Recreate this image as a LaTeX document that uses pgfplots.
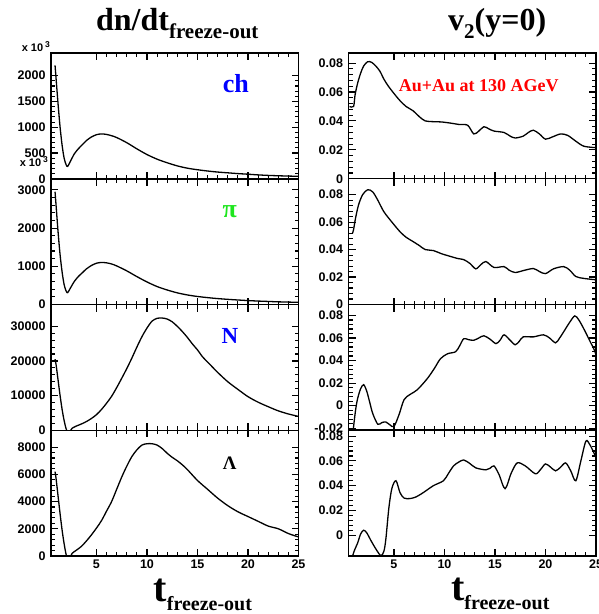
\documentclass[border=0pt]{standalone}
\usepackage{pgfplots}
\pgfplotsset{compat=1.18}
\usepackage{fontspec}
\setmainfont{Liberation Serif}
\setsansfont{Liberation Sans}
\usepgfplotslibrary{groupplots}
\definecolor{pigreen}{RGB}{30,230,30}
\begin{document}
\begin{tikzpicture}
\begin{groupplot}[
  group style={group size=2 by 4, vertical sep=0pt, horizontal sep=50pt, xticklabels at=edge bottom},
  width=247.5pt, height=125.75pt, scale only axis,
  xmin=0.5, xmax=25, xtick={5,10,15,20,25},
  minor x tick num=4, minor y tick num=4,
  tick align=inside,
  major tick length=7pt, minor tick length=4pt,
  axis line style={line width=1.5pt},
  every tick/.style={black, line width=1.1pt},
  tick label style={font=\sffamily\bfseries\fontsize{12.5}{12.5}\selectfont},
  /pgf/number format/assume math mode=true,
  /pgf/number format/1000 sep={},
  scaled y ticks=false,
  yticklabel style={xshift=-2pt},
  cycle list={{black,no marks}},
  every axis plot/.append style={line width=1.3pt, smooth},
]
% ---- row 1 left: ch
\nextgroupplot[ymin=0, ymax=2440, ytick={0,500,1000,1500,2000}]
\addplot coordinates {(0.9,2200)(1.0,1950)(1.2,1450)(1.4,1000)(1.6,650)(1.8,400)(2.0,270)(2.15,240)(2.4,330)(2.8,480)(3.2,580)(3.6,660)(4.0,740)(4.5,810)(5.0,855)(5.5,870)(6.0,860)(6.5,835)(7.0,800)(8.0,700)(9.0,580)(10.0,470)(11.0,380)(12.0,310)(13.0,250)(14.0,205)(15.0,175)(16,150)(17,130)(18,115)(19,100)(20,88)(21,75)(22,65)(23,58)(24,52)(25,48)};
\node[font=\bfseries\fontsize{26}{26}\selectfont, text=blue] at (axis cs:18.8,1840) {ch};
% ---- row 1 right
\nextgroupplot[ymin=0, ymax=0.087, ytick={0,0.02,0.04,0.06,0.08}, yticklabels={0,0.02,0.04,0.06,0.08}]
\addplot coordinates {(0.6,0.050)(1.0,0.050)(1.15,0.058)(1.4,0.066)(1.7,0.073)(2.0,0.078)(2.4,0.081)(2.8,0.0805)(3.2,0.078)(3.6,0.0745)(4.0,0.069)(4.4,0.0645)(5.0,0.059)(5.6,0.054)(6.2,0.050)(6.9,0.047)(7.5,0.043)(8.1,0.040)(8.9,0.0395)(9.7,0.0393)(10.6,0.0385)(11.5,0.0375)(12.3,0.037)(12.9,0.031)(13.4,0.033)(13.9,0.036)(14.4,0.0345)(14.9,0.033)(15.9,0.032)(16.5,0.0295)(17.0,0.0282)(17.8,0.0295)(18.3,0.032)(18.8,0.0336)(19.4,0.031)(20.0,0.0274)(20.7,0.029)(21.5,0.031)(22.2,0.030)(23.0,0.026)(23.8,0.0225)(25.0,0.0215)};
\node[font=\bfseries\fontsize{18}{18}\selectfont, text=red] at (axis cs:13.4,0.0646) {Au+Au at 130 AGeV};
% ---- row 2 left: pi
\nextgroupplot[ymin=0, ymax=3290, ytick={0,1000,2000,3000}]
\addplot coordinates {(0.9,2950)(1.0,2600)(1.2,1900)(1.4,1300)(1.6,850)(1.8,520)(2.0,350)(2.15,310)(2.4,420)(2.8,600)(3.2,730)(3.6,830)(4.0,930)(4.5,1020)(5.0,1080)(5.5,1100)(6.0,1090)(6.5,1060)(7.0,1010)(8.0,880)(9.0,730)(10.0,590)(11.0,470)(12.0,380)(13.0,305)(14.0,250)(15.0,210)(16,180)(17,155)(18,135)(19,118)(20,103)(21,90)(22,80)(23,70)(24,63)(25,57)};
\node[font=\bfseries\fontsize{26}{26}\selectfont, text=pigreen] at (axis cs:18.2,2430) {π};
% ---- row 2 right
\nextgroupplot[ymin=0, ymax=0.0916, ytick={0,0.02,0.04,0.06,0.08}, yticklabels={0,0.02,0.04,0.06,0.08}]
\addplot coordinates {(0.9,0.052)(1.0,0.0545)(1.2,0.063)(1.5,0.0727)(1.9,0.080)(2.4,0.0836)(2.9,0.082)(3.4,0.076)(4.0,0.0676)(4.8,0.060)(5.6,0.053)(6.2,0.049)(6.9,0.0458)(7.5,0.043)(8.1,0.040)(8.9,0.0393)(9.7,0.037)(10.6,0.035)(11.3,0.0335)(11.9,0.0327)(12.5,0.030)(13.1,0.026)(13.6,0.029)(14.1,0.0313)(14.9,0.027)(15.9,0.0276)(16.4,0.025)(17.0,0.0233)(17.8,0.0247)(18.8,0.0262)(19.4,0.024)(20.0,0.0225)(20.8,0.026)(21.8,0.0276)(22.4,0.025)(23.0,0.0204)(23.8,0.019)(25.0,0.018)};
% ---- row 3 left: N
\nextgroupplot[ymin=0, ymax=36300, ytick={0,10000,20000,30000}]
\addplot coordinates {(0.9,20500)(1.0,19000)(1.2,14500)(1.4,10000)(1.6,6000)(1.8,2800)(2.0,400)(2.2,-800)(2.4,-200)(2.6,600)(3.0,1200)(3.5,1800)(4.0,2500)(4.5,3400)(5.0,4500)(5.5,6000)(6.0,7800)(6.5,9800)(7.0,12300)(7.5,15000)(8.0,17800)(8.5,20800)(9.0,24000)(9.5,27000)(10.0,29500)(10.5,31500)(11.0,32300)(11.5,32400)(12.0,32100)(12.5,31300)(13.0,30000)(13.5,28500)(14.0,26800)(14.5,24900)(15.0,23200)(15.5,21200)(16.0,19700)(17.0,16700)(18.0,14000)(19.0,11800)(20.0,9700)(21.0,8100)(22.0,6800)(23.0,5600)(24.0,4700)(25.0,4000)};
\node[font=\bfseries\fontsize{23}{23}\selectfont, text=blue] at (axis cs:18.2,27100) {N};
% ---- row 3 right
\nextgroupplot[ymin=-0.0218, ymax=0.0897, ytick={-0.02,0,0.02,0.04,0.06,0.08}, yticklabels={-0.02,0,0.02,0.04,0.06,0.08}]
\addplot coordinates {(0.9,-0.030)(1.0,-0.019)(1.2,-0.004)(1.4,0.0062)(1.7,0.015)(2.0,0.0186)(2.3,0.013)(2.6,0.003)(2.9,-0.007)(3.4,-0.0165)(3.8,-0.015)(4.2,-0.0145)(4.6,-0.017)(5.0,-0.0185)(5.5,-0.008)(6.0,0.0053)(6.6,0.010)(7.3,0.014)(8.3,0.024)(9.0,0.033)(9.6,0.0416)(10.3,0.046)(11.1,0.0478)(11.5,0.053)(11.9,0.0593)(12.4,0.0585)(12.9,0.058)(13.4,0.060)(13.9,0.062)(14.5,0.059)(15.1,0.055)(15.5,0.058)(15.9,0.0628)(16.5,0.058)(17.0,0.054)(17.4,0.057)(17.8,0.061)(18.8,0.061)(19.8,0.0628)(20.4,0.060)(21.0,0.0557)(21.4,0.060)(21.8,0.0655)(22.4,0.074)(22.9,0.0796)(23.3,0.076)(23.8,0.068)(24.3,0.059)(24.8,0.050)(25.0,0.045)};
% ---- row 4 left: Lambda
\nextgroupplot[ymin=0, ymax=9240, ytick={0,2000,4000,6000,8000}]
\addplot coordinates {(0.9,6200)(1.0,5700)(1.2,4400)(1.4,3100)(1.6,1900)(1.8,900)(2.0,100)(2.2,-400)(2.4,-100)(2.6,200)(3.0,420)(3.5,700)(4.0,1100)(4.5,1550)(5.0,2050)(5.5,2600)(6.0,3300)(6.5,4000)(7.0,4900)(7.5,5800)(8.0,6600)(8.5,7300)(9.0,7800)(9.5,8150)(10.0,8250)(10.5,8250)(11.0,8150)(11.5,7900)(12.0,7550)(12.5,7250)(13.0,7000)(13.5,6700)(14.0,6350)(15.0,5550)(16.0,4900)(17.0,4250)(18.0,3700)(19.0,3250)(20.0,2900)(21.0,2550)(22.0,2200)(23.0,2000)(24.0,1650)(25.0,1400)};
\node[font=\bfseries\fontsize{19}{19}\selectfont] at (axis cs:18.2,6840) {Λ};
% ---- row 4 right
\nextgroupplot[ymin=-0.0168, ymax=0.0848, ytick={0,0.02,0.04,0.06,0.08}, yticklabels={0,0.02,0.04,0.06,0.08}]
\addplot coordinates {(0.9,-0.017)(1.1,-0.012)(1.4,-0.0064)(1.7,0.001)(2.0,0.004)(2.3,0.002)(2.7,-0.004)(3.2,-0.011)(3.7,-0.0165)(4.0,-0.013)(4.2,-0.003)(4.5,0.0224)(4.8,0.038)(5.2,0.044)(5.6,0.0344)(6.0,0.030)(6.6,0.0296)(7.2,0.031)(7.9,0.0344)(8.9,0.040)(9.9,0.044)(10.4,0.050)(10.9,0.056)(11.4,0.059)(11.9,0.0608)(12.5,0.058)(13.1,0.0544)(14.1,0.0528)(14.5,0.054)(14.9,0.056)(15.4,0.049)(16.0,0.0376)(16.6,0.050)(17.2,0.0584)(18.0,0.056)(19.0,0.0496)(19.5,0.053)(20.0,0.0576)(20.5,0.055)(21.0,0.052)(21.5,0.055)(22.0,0.0584)(22.5,0.052)(23.0,0.044)(23.5,0.060)(24.0,0.076)(24.4,0.073)(24.8,0.0664)(25.0,0.063)};
\end{groupplot}
% titles
\node[anchor=base, font=\bfseries] at ([xshift=2.5pt,yshift=23pt]group c1r1.north) {{\fontsize{32}{32}\selectfont dn/dt}\raisebox{-8pt}{\fontsize{21}{21}\selectfont freeze-out}};
\node[anchor=base, font=\bfseries] at ([xshift=25pt,yshift=23pt]group c2r1.north) {{\fontsize{32}{32}\selectfont v}\raisebox{-8pt}{\fontsize{21}{21}\selectfont 2}{\fontsize{32}{32}\selectfont (y=0)}};
% x labels
\node[anchor=base east, font=\bfseries] at ([xshift=-43pt,yshift=-45pt]group c1r4.south east) {{\fontsize{40}{40}\selectfont t}\raisebox{-9pt}{\fontsize{20}{20}\selectfont freeze-out}};
\node[anchor=base east, font=\bfseries] at ([xshift=-43pt,yshift=-45pt]group c2r4.south east) {{\fontsize{40}{40}\selectfont t}\raisebox{-9pt}{\fontsize{20}{20}\selectfont freeze-out}};
% multipliers
\node[anchor=base east, font=\sffamily\bfseries\fontsize{11}{11}\selectfont, inner sep=0pt] at ([xshift=-1pt,yshift=1.5pt]group c1r1.north west) {x 10\,\raisebox{4.5pt}{\fontsize{8.5}{8.5}\selectfont 3}};
\node[anchor=base east, font=\sffamily\bfseries\fontsize{11}{11}\selectfont, inner sep=0pt] at ([xshift=-3pt,yshift=12pt]group c1r2.north west) {x 10\,\raisebox{4.5pt}{\fontsize{8.5}{8.5}\selectfont 3}};
\pgfresetboundingbox
\useasboundingbox ([xshift=-51pt,yshift=53pt]group c1r1.north west) rectangle ([xshift=547pt,yshift=-561pt]group c1r1.north west);
\end{tikzpicture}
\end{document}
